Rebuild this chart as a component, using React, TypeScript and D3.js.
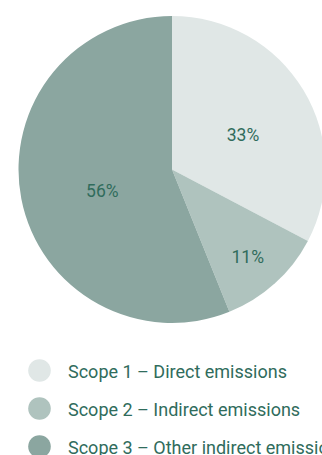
import React from "react";
import * as d3 from "d3";

const categories = [
  "Scope 1 – Direct emissions",
  "Scope 2 – Indirect emissions",
  "Scope 3 – Other indirect emissions",
];
const values = [32.7, 11.2, 56.1];
const labels = ["33%", "11%", "56%"];
const colors = ["#e0e7e6", "#afc3be", "#8ba6a0"];

const W = 322;
const H = 455;
const cx = 172;
const cy = 169.5;
const R = 153.5;
const labelRadius = [83, 113, 71];
const labelDy = [8, 3.5, 8];
const textColor = "#306c5c";
const font = "Roboto, 'Noto Sans', sans-serif";

export default function App() {
  const pie = d3.pie<number>().sort(null).value((d) => d);
  const arcs = pie(values);
  const arc = d3.arc<d3.PieArcDatum<number>>().innerRadius(0).outerRadius(R);
  const legendY = d3.scaleLinear().domain([0, 2]).range([370.5, 446.5]);

  return (
    <svg
      width={W}
      height={H}
      style={{ position: "absolute", left: 0, top: 0 }}
      fontFamily={font}
      fontWeight={400}
    >
      <rect width={W} height={H} fill="#ffffff" />
      <g transform={`translate(${cx},${cy})`}>
        {arcs.map((a, i) => (
          <path key={i} d={arc(a) || ""} fill={colors[i]} stroke="none" />
        ))}
        {arcs.map((a, i) => {
          const mid = (a.startAngle + a.endAngle) / 2;
          const x = labelRadius[i] * Math.sin(mid);
          const y = -labelRadius[i] * Math.cos(mid) + labelDy[i];
          return (
            <text
              key={i}
              x={x}
              y={y}
              textAnchor="middle"
              dominantBaseline="central"
              fontSize={17.5}
              fill={textColor}
            >
              {labels[i]}
            </text>
          );
        })}
      </g>
      {categories.map((c, i) => (
        <g key={c} transform={`translate(0,${legendY(i)})`}>
          <circle cx={39.5} cy={0} r={11.3} fill={colors[i]} />
          <text x={68} y={7.5} fontSize={18} fill={textColor}>
            {c}
          </text>
        </g>
      ))}
    </svg>
  );
}
